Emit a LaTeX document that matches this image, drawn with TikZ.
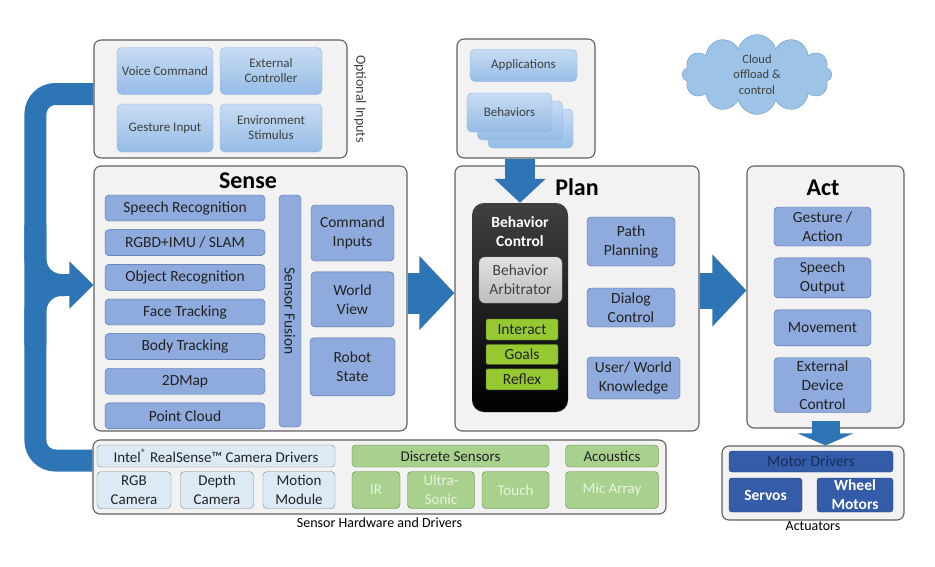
\documentclass[tikz,border=0pt]{standalone}
\usepackage{fontspec}
\setmainfont{Carlito}
\usetikzlibrary{chains,shapes,arrows.meta,positioning}

\definecolor{panelfill}{RGB}{242,242,242}
\definecolor{panelline}{RGB}{96,96,96}
\definecolor{opttop}{RGB}{200,220,243}
\definecolor{optbot}{RGB}{150,188,230}
\definecolor{optline}{RGB}{140,178,225}
\definecolor{blufill}{RGB}{143,170,220}
\definecolor{bluline}{RGB}{72,104,165}
\definecolor{txtdark}{RGB}{35,35,35}
\definecolor{txtgray}{RGB}{64,64,64}
\definecolor{arbtop}{RGB}{225,225,225}
\definecolor{arbbot}{RGB}{190,190,190}
\definecolor{limefill}{RGB}{150,200,50}
\definecolor{limeline}{RGB}{80,120,30}
\definecolor{camfill}{RGB}{220,234,246}
\definecolor{camline}{RGB}{120,140,120}
\definecolor{grnfill}{RGB}{169,209,142}
\definecolor{grnline}{RGB}{90,135,60}
\definecolor{grntext}{RGB}{232,243,224}
\definecolor{motfill}{RGB}{52,92,168}
\definecolor{motline}{RGB}{30,60,120}
\definecolor{mottext}{RGB}{25,45,90}
\definecolor{cloudfill}{RGB}{157,195,230}
\definecolor{cloudline}{RGB}{100,150,205}
\definecolor{arrowblue}{RGB}{46,117,182}

\begin{document}
\begin{tikzpicture}[x=1pt,y=-1pt]
    \tikzstyle{every node}=[align=center,inner sep=1pt]
    \edef\boxfont{\noexpand\fontsize{15.5}{19}\noexpand\selectfont}
    \tikzstyle{panel}=[draw=panelline,fill=panelfill,line width=1.1pt,rounded corners=7pt]
    \tikzstyle{ttl}=[font=\fontsize{24}{26}\selectfont\bfseries]
    \tikzstyle{lbl}=[font=\fontsize{14}{16}\selectfont,text=black]
    \tikzstyle{optbox}=[draw=optline,top color=opttop,bottom color=optbot,rounded corners=5pt,text=txtgray,font=\fontsize{13}{15}\selectfont]
    \tikzstyle{blubox}=[draw=bluline,fill=blufill,rounded corners=4pt,text=txtdark,font=\boxfont,align=center,inner sep=1pt]
    \tikzstyle{limebox}=[draw=limeline,fill=limefill,rounded corners=2pt,text=txtdark,font=\boxfont,minimum width=72pt]
    \tikzstyle{cambox}=[draw=camline,fill=camfill,rounded corners=4pt,text=txtdark,font=\fontsize{15}{19}\selectfont]
    \tikzstyle{grnbox}=[draw=grnline,fill=grnfill,rounded corners=4pt,text=txtdark,font=\fontsize{15}{19}\selectfont]
    \tikzstyle{motbox}=[draw=motline,fill=motfill,rounded corners=3pt,text=white,font=\fontsize{15.5}{19}\selectfont\bfseries]
    \tikzstyle{fatarrow}=[draw=arrowblue,line width=41pt,-{Triangle[length=35pt,width=72pt]}]
    \tikzstyle{loopline}=[draw=arrowblue,line width=22pt]

    \useasboundingbox (0,0) rectangle (935,566);

    % optional inputs
    \node[panel,minimum width=253pt,minimum height=118pt] (optin) at (220.5,99) {};
    \node[rotate=-90,font=\fontsize{14}{16}\selectfont,text=txtgray] (optlbl) at (360,99) {Optional Inputs};
    \node[optbox,minimum width=96pt,minimum height=47pt]  (voice)   at (165,71)  {Voice Command};
    \node[optbox,minimum width=102pt,minimum height=47pt] (extctl)  at (271,71)  {External\\Controller};
    \node[optbox,minimum width=96pt,minimum height=48pt]  (gestin)  at (165,128) {Gesture Input};
    \node[optbox,minimum width=102pt,minimum height=48pt] (envstim) at (271,128) {Environment\\Stimulus};

    % sense
    \node[panel,minimum width=313pt,minimum height=265pt] (sense) at (250.5,298.5) {};
    \node[ttl] (sensettl) at (248,181) {Sense};
    \begin{scope}[start chain=senselist going below,node distance=8.25pt]
      \tikzstyle{every node}=[blubox,minimum width=160pt,minimum height=26pt]
      \node[on chain] (speechrec) at (185,208) {Speech Recognition};
      \node[on chain] (slam)                   {RGBD+IMU / SLAM};
      \node[on chain] (objrec)                 {Object Recognition};
      \node[on chain] (facetrk)                {Face Tracking};
      \node[on chain] (bodytrk)                {Body Tracking};
      \node[on chain] (twodmap)                {2DMap};
      \node[on chain] (ptcloud)                {Point Cloud};
    \end{scope}
    \node[blubox,rotate=-90,minimum width=232pt,minimum height=22pt] (fusion) at (290,311) {Sensor Fusion};
    \begin{scope}[start chain=senseout going below,node distance=10.5pt]
      \node[on chain,blubox,minimum width=83pt,minimum height=56pt] (cmdin) at (352.5,233) {Command\\Inputs};
      \node[on chain,blubox,minimum width=83pt,minimum height=55pt] (worldview)         {World\\View};
      \node[on chain,blubox,minimum width=85pt,minimum height=58pt] (robotstate)        {Robot\\State};
    \end{scope}

    % applications
    \node[panel,minimum width=138pt,minimum height=119pt] (apps) at (526,98.5) {};
    \node[optbox,minimum width=107pt,minimum height=32pt] (appbox) at (523.5,65.5) {Applications};
    \node[optbox,minimum width=85pt,minimum height=39pt] (behav3) at (530.5,128.5) {};
    \node[optbox,minimum width=85pt,minimum height=39pt] (behav2) at (520,120.5) {};
    \node[optbox,minimum width=85pt,minimum height=39pt] (behav)  at (509.5,112.5) {Behaviors};

    % cloud
    \node[cloud,cloud puffs=12,aspect=2,draw=cloudline,fill=cloudfill,minimum width=150pt,minimum height=75pt,
          text=txtgray,font=\fontsize{12.5}{15.3}\selectfont] (cloud) at (757,74.5) {Cloud\\offload \&\\control};

    % plan
    \node[panel,minimum width=244pt,minimum height=265pt] (plan) at (577,298.5) {};
    \node[ttl] (planttl) at (577,187) {Plan};
    \node[top color=black!75,bottom color=black,rounded corners=12pt,minimum width=96pt,minimum height=209pt] (bhvctl) at (520,307.5) {};
    \node[text=white,font=\fontsize{15.5}{19}\selectfont\bfseries] (bhvttl) at (520,232) {Behavior\\Control};
    \node[draw=arbbot!80!black,top color=arbtop,bottom color=arbbot,rounded corners=6pt,minimum width=83pt,minimum height=46pt,
          text=txtgray,font=\boxfont] (arbiter) at (520.5,280) {Behavior\\Arbitrator};
    \begin{scope}[start chain=levels going below,node distance=4pt]
      \node[on chain,limebox,minimum height=21pt] (interact) at (522,329.5) {Interact};
      \node[on chain,limebox,minimum height=20pt] (goals)                   {Goals};
      \node[on chain,limebox,minimum height=21pt] (reflex)                  {Reflex};
    \end{scope}
    \node[blubox,minimum width=88pt,minimum height=49pt] (pathplan) at (631,241.5) {Path\\Planning};
    \node[blubox,minimum width=88pt,minimum height=39pt] (dialog)   at (631,307.5) {Dialog\\Control};
    \node[blubox,minimum width=93pt,minimum height=42pt] (userknow) at (633.5,378) {User/ World\\Knowledge};

    % act
    \node[panel,minimum width=157pt,minimum height=262pt] (act) at (825.5,297) {};
    \node[ttl] (actttl) at (823,188) {Act};
    \begin{scope}[start chain=actlist going below,node distance=11.5pt]
      \tikzstyle{every node}=[blubox,minimum width=97pt]
      \node[on chain,minimum height=39pt] (gesture) at (822.5,226.5) {Gesture /\\Action};
      \node[on chain,minimum height=40pt] (speechout)                {Speech\\Output};
      \node[on chain,minimum height=36pt] (movement)                 {Movement};
      \node[on chain,minimum height=55pt] (extdev)                   {External\\Device\\Control};
    \end{scope}

    % actuators
    \node[panel,minimum width=182pt,minimum height=74pt,label={[lbl,label distance=0pt]below:Actuators}] (actu) at (813,483) {};
    \node[motbox,minimum width=164pt,minimum height=21pt,text=mottext,font=\boxfont] (motordrv) at (811,461.5) {Motor Drivers};
    \node[motbox,minimum width=73pt,minimum height=34pt] (servos) at (765.5,495) {Servos};
    \node[motbox,minimum width=76pt,minimum height=34pt] (wheels) at (855,495) {Wheel\\Motors};

    % sensor hardware
    \node[panel,minimum width=573pt,minimum height=74pt,label={[lbl,label distance=2pt]below:Sensor Hardware and Drivers}] (sensorhw) at (379.5,477) {};
    \node[cambox,minimum width=238pt,minimum height=22pt] (intel) at (216,456) {Intel\textsuperscript{®} RealSense™ Camera Drivers};
    \node[cambox,minimum width=74pt,minimum height=37pt] (rgbcam)    at (134,490) {RGB\\Camera};
    \node[cambox,minimum width=73pt,minimum height=37pt] (depthcam)  at (217,490) {Depth\\Camera};
    \node[cambox,minimum width=72pt,minimum height=37pt] (motionmod) at (299,490) {Motion\\Module};
    \node[grnbox,minimum width=197pt,minimum height=22pt] (discrete)  at (450.5,456) {Discrete Sensors};
    \node[grnbox,minimum width=48pt,minimum height=37pt,text=grntext] (irsens)   at (376,490)   {IR};
    \node[grnbox,minimum width=67pt,minimum height=37pt,text=grntext] (ultrason) at (441,490)   {Ultra-\\Sonic};
    \node[grnbox,minimum width=67pt,minimum height=37pt,text=grntext] (touch)    at (515.5,490) {Touch};
    \node[grnbox,minimum width=93pt,minimum height=22pt] (acoustics) at (612,456) {Acoustics};
    \node[grnbox,minimum width=93pt,minimum height=37pt,text=grntext] (micarray) at (612,490) {Mic Array};

    % flow arrows
    \draw[fatarrow] ([yshift=5.5pt]sense.east) -- ([yshift=5.5pt]sense.east -| plan.west);
    \draw[fatarrow,line width=36pt,-{Triangle[length=34pt,width=70pt]}] ([yshift=8pt]plan.east) -- ([yshift=8pt]plan.east -| act.west);
    \draw[fatarrow,line width=30pt,-{Triangle[length=24pt,width=50pt]}] (bhvctl.north |- apps.south) -- (bhvctl.north);
    \draw[fatarrow,line width=28pt,-{Triangle[length=12pt,width=55pt]}] ([yshift=8pt]act.south) -- (act.south |- actu.north);

    % feedback loop into sense
    \coordinate (loopin) at ([yshift=13.5pt]sense.west);
    \coordinate (brace) at ([xshift=-58pt]loopin);
    \draw[loopline,rounded corners=20pt] ([yshift=5pt]optin.west) -- ([yshift=5pt]optin.west -| brace) |- ([yshift=16.5pt]sensorhw.west);
    \draw[loopline,rounded corners=26pt] ([yshift=60pt]brace) -- (brace) -- ([xshift=30pt]brace);
    \draw[loopline,rounded corners=26pt] ([yshift=-60pt]brace) -- (brace) -- ([xshift=30pt]brace);
    \draw[loopline,-{Triangle[length=24pt,width=46pt]}] ([xshift=20pt]brace) -- (loopin);
\end{tikzpicture}
\end{document}
